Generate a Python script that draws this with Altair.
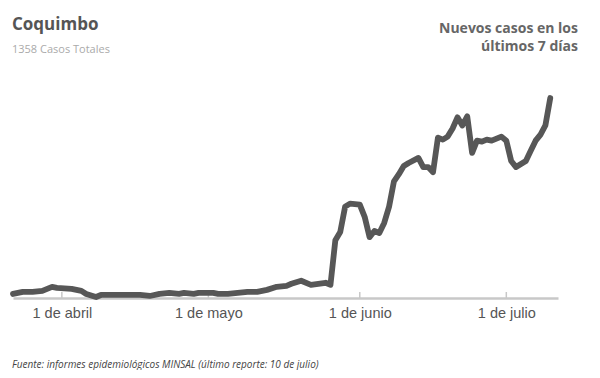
import altair as alt
import pandas as pd

# ---- data ----
dates = [
    "2020-03-22", "2020-03-24", "2020-03-26", "2020-03-28", "2020-03-30", "2020-03-31",
    "2020-04-03", "2020-04-05", "2020-04-06", "2020-04-08", "2020-04-09", "2020-04-13",
    "2020-04-17", "2020-04-19", "2020-04-21", "2020-04-23", "2020-04-25", "2020-04-26",
    "2020-04-28", "2020-04-29", "2020-05-01", "2020-05-02", "2020-05-03", "2020-05-05",
    "2020-05-07", "2020-05-09", "2020-05-11", "2020-05-13", "2020-05-15", "2020-05-17",
    "2020-05-18", "2020-05-20", "2020-05-22", "2020-05-25", "2020-05-26", "2020-05-27",
    "2020-05-28", "2020-05-29", "2020-05-30", "2020-06-01", "2020-06-02", "2020-06-03",
    "2020-06-04", "2020-06-05", "2020-06-06", "2020-06-07", "2020-06-08", "2020-06-09",
    "2020-06-10", "2020-06-11", "2020-06-13", "2020-06-14", "2020-06-15", "2020-06-16",
    "2020-06-17", "2020-06-18", "2020-06-19", "2020-06-20", "2020-06-21", "2020-06-22",
    "2020-06-23", "2020-06-24", "2020-06-25", "2020-06-26", "2020-06-27", "2020-06-28",
    "2020-06-29", "2020-06-30", "2020-07-01", "2020-07-02", "2020-07-03", "2020-07-04",
    "2020-07-05", "2020-07-06", "2020-07-07", "2020-07-08", "2020-07-09", "2020-07-10",
]
values = [
    8, 12, 12, 14, 22, 20,
    18, 14, 8, 2, 6, 6,
    6, 4, 8, 10, 8, 10,
    8, 10, 10, 10, 8, 8,
    10, 12, 12, 16, 22, 24,
    28, 34, 26, 30, 26, 114,
    130, 180, 186, 184, 160, 120,
    132, 128, 148, 180, 230, 244,
    260, 266, 276, 258, 258, 248,
    316, 312, 318, 334, 356, 340,
    358, 286, 310, 308, 312, 310,
    314, 318, 310, 270, 258, 264,
    270, 290, 310, 322, 340, 394,
]
tick_dates = ["2020-04-01", "2020-05-01", "2020-06-01", "2020-07-01"]
month_names = ["enero", "febrero", "marzo", "abril", "mayo", "junio",
               "julio", "agosto", "septiembre", "octubre", "noviembre", "diciembre"]

title_text = "Coquimbo"
subtitle_text = "1358 Casos Totales"
right_title = ["Nuevos casos en los", "últimos 7 días"]
footer_text = "Fuente: informes epidemiológicos MINSAL (último reporte: 10 de julio)"

PW, PH = 545, 203

df = pd.DataFrame({"fecha": dates, "casos": values})
ticks_df = pd.DataFrame({"fecha": tick_dates})

def dt(s, hours=0):
    y, m, d = (int(p) for p in s.split("-"))
    return alt.DateTime(year=y, month=m, date=d, hours=hours, utc=True)

x_scale = alt.Scale(type="utc", domain=[dt("2020-03-22"), dt("2020-07-11", 14)])

months_js = "[" + ",".join("'%s'" % m for m in month_names) + "]"

x_axis = alt.Axis(
    values=[dt(t) for t in tick_dates],
    labelExpr="'1 de ' + " + months_js + "[utcmonth(datum.value)]",
    title=None, grid=False, ticks=False, tickSize=0,
    domainColor="#c8c8c8", domainWidth=2.5,
    labelColor="#555555", labelFont="Liberation Sans", labelFontSize=14.5,
    labelPadding=8, labelBaseline="top",
)

line = alt.Chart(df).mark_line(
    color="#575757", strokeWidth=5.8, strokeJoin="round", strokeCap="round"
).encode(
    x=alt.X("fecha:T", scale=x_scale, axis=x_axis),
    y=alt.Y("casos:Q", scale=alt.Scale(domain=[0, 400], nice=False, zero=True), axis=None),
)

tick_rules = alt.Chart(ticks_df).mark_rule(color="#c8c8c8", strokeWidth=1.5).encode(
    x=alt.X("fecha:T", scale=x_scale),
    y=alt.value(PH - 6),
    y2=alt.value(PH),
)

def text_layer(txt, x, y, size, color, weight="normal", align="left", style="normal", font="Open Sans"):
    return alt.Chart(pd.DataFrame({"t": [txt]})).mark_text(
        align=align, baseline="alphabetic", fontSize=size, fontWeight=weight,
        fontStyle=style, font=font, color=color,
    ).encode(x=alt.value(x), y=alt.value(y), text="t:N")

texts = [
    text_layer(title_text, -1, -65, 17, "#555555", weight="bold"),
    text_layer(subtitle_text, -1, -42, 11, "#aaaaaa"),
    text_layer(right_title[0], 565, -62, 14, "#666666", weight="bold", align="right"),
    text_layer(right_title[1], 565, -44, 14, "#666666", weight="bold", align="right"),
    text_layer(footer_text, -1, 273, 10, "#444444", style="italic"),
]

chart = alt.layer(tick_rules, line, *texts).properties(
    width=PW, height=PH,
    autosize=alt.AutoSizeParams(type="none"),
    padding={"left": 5, "top": 87, "right": 34, "bottom": 72},
    background="white",
).configure_view(stroke=None)

chart.save("out.html", embed_options={"renderer": "svg", "actions": False})
